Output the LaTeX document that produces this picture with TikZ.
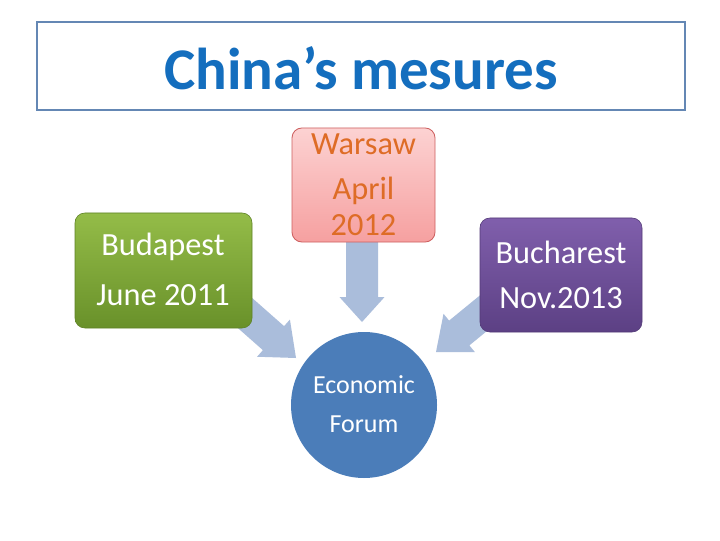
\documentclass[tikz,border=0pt]{standalone}
\usepackage{fontspec}
\setmainfont{Carlito}
\usetikzlibrary{calc}
\definecolor{titleborder}{RGB}{100,135,180}
\definecolor{titletext}{RGB}{20,110,190}
\definecolor{greentop}{RGB}{148,188,72}
\definecolor{greenbot}{RGB}{105,145,42}
\definecolor{pinktop}{RGB}{252,210,210}
\definecolor{pinkbot}{RGB}{246,160,160}
\definecolor{pinkline}{RGB}{205,95,95}
\definecolor{warsawtext}{RGB}{222,108,38}
\definecolor{purptop}{RGB}{128,95,172}
\definecolor{purpbot}{RGB}{92,64,132}
\definecolor{circfill}{RGB}{75,125,185}
\definecolor{arrowfill}{RGB}{170,189,219}
\tikzset{
  boxshape/.style={rounded corners=7pt, inner sep=0pt},
  whitetext/.style={text=white, font=\fontsize{23}{27}\selectfont, inner sep=0pt, anchor=center},
  orangetext/.style={text=warsawtext, font=\fontsize{23}{27}\selectfont, inner sep=0pt, anchor=center},
}
\newcommand{\blockarrow}[5]{%
  \coordinate (H) at ($(#2)!#5!(#1)$);
  \fill[arrowfill] ($(#1)!#3!90:(#2)$) -- ($(H)!#3!90:(#2)$) -- ($(H)!#4!90:(#2)$) -- (#2)
    -- ($(H)!#4!-90:(#2)$) -- ($(H)!#3!-90:(#2)$) -- ($(#1)!#3!-90:(#2)$) -- cycle;}
\begin{document}
\begin{tikzpicture}[x=0.025cm,y=0.025cm]
\useasboundingbox[fill=white] (0,0) rectangle (720,540);
% title
\node[draw=titleborder, line width=1.6pt, minimum width=648*0.025cm, minimum height=88*0.025cm, inner sep=0pt] (titlebox) at (361,474) {};
\node[text=titletext, font=\fontsize{42}{50}\bfseries\selectfont, inner sep=0pt] (title) at (361,472) {China’s mesures};
% arrows
\coordinate (dA) at (362,302);
\coordinate (dB) at (362,218);
\coordinate (lA) at (228,242);
\coordinate (lB) at (296,182);
\coordinate (rA) at (502,242);
\coordinate (rB) at (436,188);
\blockarrow{dA}{dB}{0.4cm}{0.56cm}{0.62cm}
\blockarrow{lA}{lB}{0.4cm}{0.62cm}{0.75cm}
\blockarrow{rA}{rB}{0.4cm}{0.62cm}{0.75cm}
% boxes
\path[boxshape, top color=greentop, bottom color=greenbot, draw=greenbot!90!black, line width=0.4pt] (75,327) rectangle (252,212);
\node[whitetext] (bud1) at (163,293) {Budapest};
\node[whitetext] (bud2) at (163,245) {June 2011};
\path[boxshape, top color=pinktop, bottom color=pinkbot, draw=pinkline, line width=0.6pt] (292,412) rectangle (435,298);
\node[orangetext] (war1) at (363.5,396) {Warsaw};
\node[orangetext] (war2) at (363.5,349) {April};
\node[orangetext] (war3) at (363.5,315) {2012};
\path[boxshape, top color=purptop, bottom color=purpbot, draw=purpbot!90!black, line width=0.4pt] (480,322) rectangle (642,208);
\node[whitetext] (buc1) at (561,288) {Bucharest};
\node[whitetext] (buc2) at (561,242) {Nov.2013};
% circle
\node[circle, fill=circfill, minimum size=146*0.025cm, inner sep=0pt] (forum) at (364,135) {};
\node[text=white, font=\fontsize{18.5}{22}\selectfont, inner sep=0pt] (f1) at (364,155) {Economic};
\node[text=white, font=\fontsize{18.5}{22}\selectfont, inner sep=0pt] (f2) at (364,116) {Forum};
\end{tikzpicture}
\end{document}
